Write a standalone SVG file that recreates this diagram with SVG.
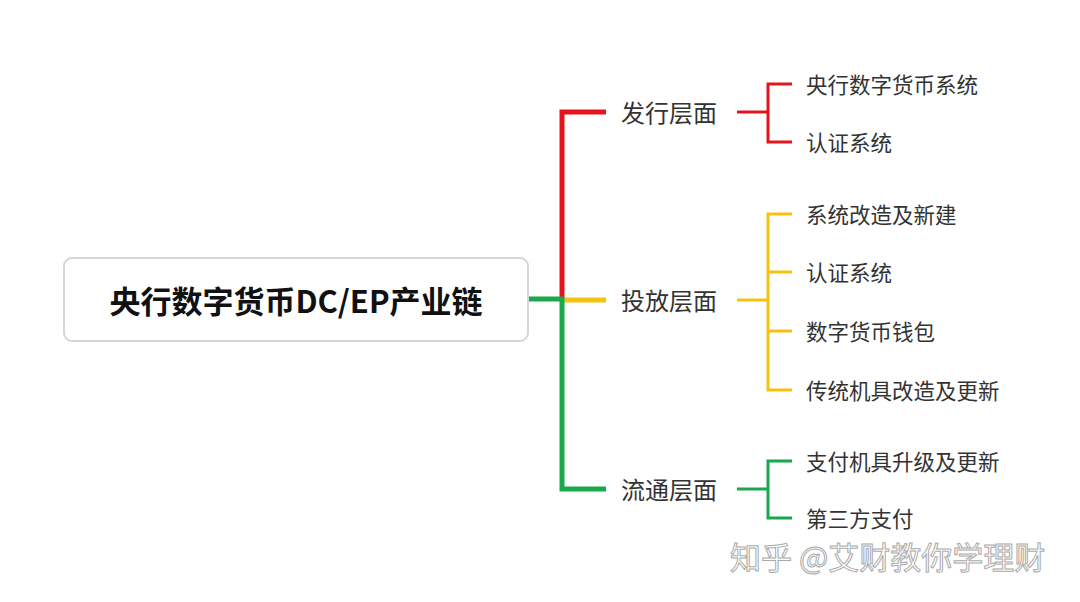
<svg xmlns="http://www.w3.org/2000/svg" width="1080" height="602" viewBox="0 0 1080 602">
<style>
.t{font-family:"Noto Sans CJK SC","Liberation Sans",sans-serif;fill:#333}
.mid{font-size:24px}
.leaf{font-size:21.5px}
.root{font-size:31px;font-weight:bold;fill:#111}
.thick{fill:none;stroke-width:5}
.thin{fill:none;stroke-width:3}
.r{stroke:#e5141c}.y{stroke:#f5c20f}.g{stroke:#19a84c}
.wm{font-family:"Noto Sans CJK SC",sans-serif;font-size:31px;fill:#fff;stroke:#aaa;stroke-width:1}
</style>
<rect width="1080" height="602" fill="#fff"/>
<g id="connectors">
<path class="thick r" d="M562,299 V112 H606"/>
<path class="thick y" d="M562,300 H606"/>
<path class="thick g" d="M528,299 H562 V489 H606"/>
<path class="thin r" d="M737,112 H768 M792,84 H768 V142 H792"/>
<path class="thin y" d="M737,300 H768 M792,214 H768 V390 H792 M768,272 H792 M768,331 H792"/>
<path class="thin g" d="M737,489 H768 M792,461 H768 V518 H792"/>
</g>
<g id="root">
<rect x="64" y="258" width="464" height="83" rx="8" fill="#fff" stroke="#d6d6d6" stroke-width="2"/>
<text class="t root" x="296" y="299" text-anchor="middle" dominant-baseline="central">央行数字货币DC/EP产业链</text>
</g>
<g id="n-faxing"><text class="t mid" x="621" y="111" dominant-baseline="central">发行层面</text></g>
<g id="n-toufang"><text class="t mid" x="621" y="299" dominant-baseline="central">投放层面</text></g>
<g id="n-liutong"><text class="t mid" x="621" y="488" dominant-baseline="central">流通层面</text></g>
<g id="l1"><text class="t leaf" x="806" y="83" dominant-baseline="central">央行数字货币系统</text></g>
<g id="l2"><text class="t leaf" x="806" y="141" dominant-baseline="central">认证系统</text></g>
<g id="l3"><text class="t leaf" x="806" y="213" dominant-baseline="central">系统改造及新建</text></g>
<g id="l4"><text class="t leaf" x="806" y="271" dominant-baseline="central">认证系统</text></g>
<g id="l5"><text class="t leaf" x="806" y="330" dominant-baseline="central">数字货币钱包</text></g>
<g id="l6"><text class="t leaf" x="806" y="389" dominant-baseline="central">传统机具改造及更新</text></g>
<g id="l7"><text class="t leaf" x="806" y="460" dominant-baseline="central">支付机具升级及更新</text></g>
<g id="l8"><text class="t leaf" x="806" y="517" dominant-baseline="central">第三方支付</text></g>
<text class="wm" x="730" y="555" dominant-baseline="central">知乎 @艾财教你学理财</text>
</svg>
